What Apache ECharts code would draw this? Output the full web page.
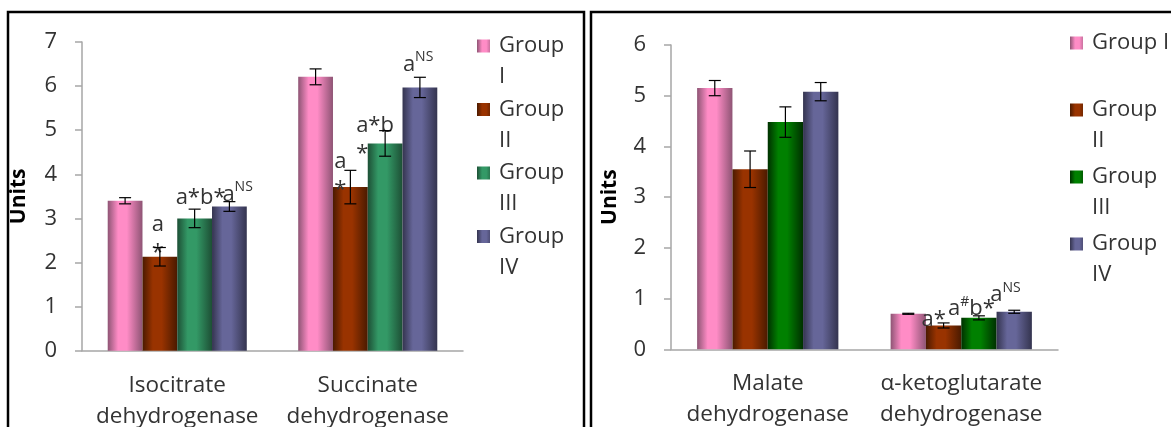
<!DOCTYPE html>
<html>
<head>
<meta charset="utf-8">
<script src="https://cdn.jsdelivr.net/npm/echarts@6/dist/echarts.min.js"></script>
<style>
  html, body { margin: 0; background: #fff; }
  #chart { width: 1171px; height: 427px; }
</style>
</head>
<body>
<div id="chart"></div>
<script>
// ---- data ----
const groups = ['Group I', 'Group II', 'Group III', 'Group IV'];
const leftCategories = ['Isocitrate\ndehydrogenase', 'Succinate\ndehydrogenase'];
const rightCategories = ['Malate\ndehydrogenase', 'α-ketoglutarate\ndehydrogenase'];

// one row per group: [first enzyme, second enzyme]
const leftValues = [[3.40, 6.21], [2.13, 3.71], [3.00, 4.70], [3.27, 5.97]];
const leftErrors = [[0.07, 0.18], [0.21, 0.38], [0.21, 0.29], [0.11, 0.23]];
const rightValues = [[5.15, 0.70], [3.55, 0.47], [4.48, 0.62], [5.08, 0.74]];
const rightErrors = [[0.15, 0.01], [0.36, 0.05], [0.30, 0.04], [0.18, 0.03]];

// significance marks, ^ starts a superscript
const leftNotes = [['', ''], ['a\n*', 'a\n*'], ['a*b*', 'a*b\n*'], ['a^NS', 'a^NS']];
const rightNotes = [['', ''], ['', 'a*'], ['', 'a^#b*'], ['', 'a^NS']];

const leftMax = 7;
const rightMax = 6;

// ---- look ----
const FONT = 'Open Sans';
const TEXT = '#333';
const AXIS = '#a6a6a6';
const CAT_GAP = 0.27;
const leftColors = [['#ff8cc6', '#8e5474'], ['#993300', '#4a1a00'], ['#339966', '#1d4f35'], ['#666699', '#34344f']];
const rightColors = [['#ff8cc6', '#8e5474'], ['#993300', '#4a1a00'], ['#008000', '#003000'], ['#666699', '#34344f']];
// label nudges [dx, dy] from the bar top centre
const leftNoteOffsets = [[null, null], [[-8, 10], [-16, 16.5]], [[-19, -7], [-29, 24.5]], [[-7, 2], [-17, -9]]];
const rightNoteOffsets = [[null, null], [null, [-22, 8]], [null, [-31, 5]], [null, [-24, -3]]];

function grad(c) {
  return new echarts.graphic.LinearGradient(0, 0, 1, 0, [
    { offset: 0, color: c[1] },
    { offset: 0.3, color: c[0] },
    { offset: 0.55, color: c[0] },
    { offset: 1, color: c[1] }
  ]);
}

function toRich(s) {
  return s.replace(/\^([A-Z#]+)/g, '{sup|$1}');
}

function barSeries(values, notes, offsets, colors, axis) {
  return values.map((vals, g) => ({
    name: groups[g],
    type: 'bar',
    xAxisIndex: axis,
    yAxisIndex: axis,
    barGap: '0%',
    barCategoryGap: (CAT_GAP * 100) + '%',
    itemStyle: { color: grad(colors[g]) },
    data: vals.map((v, c) => {
      if (!notes[g][c]) return v;
      return {
        value: v,
        label: {
          show: true,
          position: 'top',
          distance: 0,
          align: 'left',
          offset: offsets[g][c],
          formatter: toRich(notes[g][c]),
          fontFamily: FONT,
          fontSize: 22,
          lineHeight: 28,
          color: TEXT,
          rich: { sup: { fontFamily: FONT, fontSize: 14, lineHeight: 2, verticalAlign: 'top', color: TEXT } }
        }
      };
    })
  }));
}

function drawErrorBar(params, api) {
  const band = api.size([1, 0])[0];
  const barW = band * (1 - CAT_GAP) / 4;
  const cat = api.value(0);
  const x = api.coord([cat, 0])[0] + (api.value(3) - 1.5) * barW;
  const lo = api.coord([cat, api.value(1)])[1];
  const hi = api.coord([cat, api.value(2)])[1];
  const style = { stroke: '#000', lineWidth: 1.2 };
  return {
    type: 'group',
    children: [
      { type: 'line', shape: { x1: x, y1: lo, x2: x, y2: hi }, style },
      { type: 'line', shape: { x1: x - 6, y1: hi, x2: x + 6, y2: hi }, style },
      { type: 'line', shape: { x1: x - 6, y1: lo, x2: x + 6, y2: lo }, style }
    ]
  };
}

function errorSeries(values, errors, axis) {
  const data = [];
  values.forEach((vals, g) => vals.forEach((v, c) => {
    data.push([c, v - errors[g][c], v + errors[g][c], g]);
  }));
  return {
    name: 'err' + axis,
    type: 'custom',
    xAxisIndex: axis,
    yAxisIndex: axis,
    z: 5,
    silent: true,
    encode: { x: 0, y: [1, 2] },
    renderItem: drawErrorBar,
    data
  };
}

function xAxis(cats, idx) {
  return {
    type: 'category',
    gridIndex: idx,
    data: cats,
    axisLine: { lineStyle: { color: AXIS, width: 1.5 } },
    axisTick: { show: false },
    axisLabel: { interval: 0, fontFamily: FONT, fontSize: 22.5, lineHeight: 31, margin: 19, color: TEXT }
  };
}

function yAxis(max, idx, gap) {
  return {
    type: 'value',
    gridIndex: idx,
    min: 0,
    max: max,
    interval: 1,
    name: 'Units',
    nameLocation: 'middle',
    nameGap: gap,
    nameTextStyle: { fontFamily: FONT, fontWeight: 'bold', fontSize: 21, color: '#000' },
    axisLine: { show: true, lineStyle: { color: AXIS, width: 1.5 } },
    axisTick: { show: true, length: 7, lineStyle: { color: AXIS, width: 1.5 } },
    splitLine: { show: false },
    axisLabel: { fontFamily: FONT, fontSize: 22, margin: 25, color: TEXT }
  };
}

// square near the top of a tall transparent box, so it lines up with the first text line
const legendIcon = 'path://M0 8L13 8L13 21L0 21Z M0 0L0.01 0 M17 60L17.01 60';

function legend(left, top, gap, colors, formatter) {
  return {
    orient: 'vertical',
    left: left,
    top: top,
    padding: 0,
    itemWidth: 17,
    itemHeight: 60,
    itemGap: gap,
    icon: legendIcon,
    selectedMode: false,
    itemStyle: { borderWidth: 0 },
    textStyle: { fontFamily: FONT, fontSize: 22, lineHeight: 31, color: TEXT },
    formatter: formatter,
    data: groups.map((g, i) => ({ name: g, itemStyle: { color: grad(colors[i]) } }))
  };
}

const chart = echarts.init(document.getElementById('chart'));
chart.setOption({
  animation: false,
  backgroundColor: '#fff',
  graphic: [
    { type: 'rect', shape: { x: 8, y: 12, width: 576, height: 440 }, style: { fill: 'none', stroke: '#000', lineWidth: 2.5 }, z: 100 },
    { type: 'rect', shape: { x: 591, y: 12, width: 620, height: 440 }, style: { fill: 'none', stroke: '#000', lineWidth: 2.5 }, z: 100 }
  ],
  legend: [
    legend(477, 30.5, 1.5, leftColors, name => name.replace(' ', '\n')),
    legend(1070, 27.5, 5, rightColors, name => name === 'Group I' ? 'Group I\n ' : name.replace(' ', '\n'))
  ],
  grid: [
    { left: 82, top: 42, width: 381, height: 308.7, outerBoundsMode: 'none' },
    { left: 671, top: 45, width: 387, height: 304.3, outerBoundsMode: 'none' }
  ],
  xAxis: [xAxis(leftCategories, 0), xAxis(rightCategories, 1)],
  yAxis: [yAxis(leftMax, 0, 52), yAxis(rightMax, 1, 50)],
  series: [
    ...barSeries(leftValues, leftNotes, leftNoteOffsets, leftColors, 0),
    ...barSeries(rightValues, rightNotes, rightNoteOffsets, rightColors, 1),
    errorSeries(leftValues, leftErrors, 0),
    errorSeries(rightValues, rightErrors, 1)
  ]
});
</script>
</body>
</html>
